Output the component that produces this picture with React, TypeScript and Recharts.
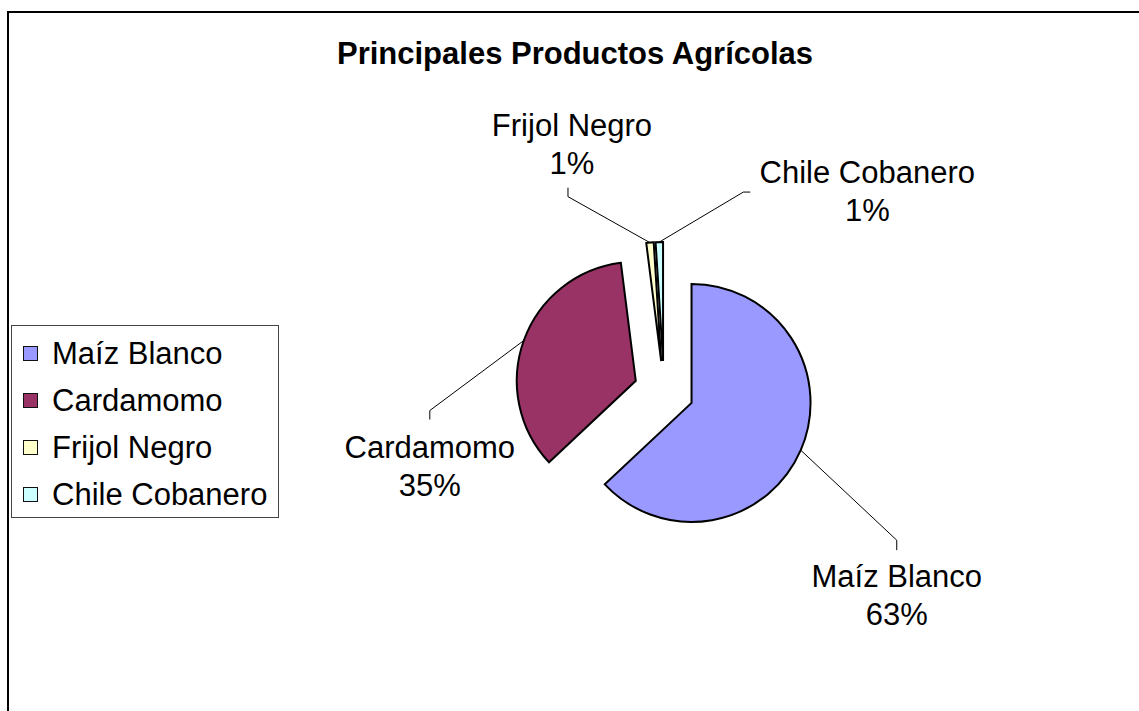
import React from 'react';
import { PieChart, Pie, Sector, Legend } from 'recharts';

const categories = ['Maíz Blanco', 'Cardamomo', 'Frijol Negro', 'Chile Cobanero'];
const shares = [63, 35, 1, 1];
const colors = ['#9999FF', '#993366', '#FFFFCC', '#CCFFFF'];

const data = categories.map((name, i) => ({ name, value: shares[i] }));

const FONT = '"Liberation Sans", Arial, Helvetica, sans-serif';
const RADIAN = Math.PI / 180;
const EXPLODE = 30;
const LINE_GAP = 38;

// leader line bend/end and first text baseline, relative to the slice's arc midpoint
const labelLayout = [
  { bend: [96, 90], end: [96, 100], text: [96, 137] },
  { bend: [-94, 70], end: [-94, 79], text: [-94, 117] },
  { bend: [-82, -46], end: [-82, -55], text: [-78, -107] },
  { bend: [84, -50], end: [91, -50], text: [208, -59] },
];

const renderSlice = (props: any) => {
  const { cx, cy, outerRadius, startAngle, endAngle, index, percent } = props;
  const mid = (startAngle + endAngle) / 2;
  const ux = Math.cos(-mid * RADIAN);
  const uy = Math.sin(-mid * RADIAN);
  // pulled-out slice
  const ox = cx + EXPLODE * ux;
  const oy = cy + EXPLODE * uy;
  const ax = ox + outerRadius * ux;
  const ay = oy + outerRadius * uy;
  const lay = labelLayout[index];
  const tx = ax + lay.text[0];
  const ty = ay + lay.text[1];
  const pts = [
    [ax, ay],
    [ax + lay.bend[0], ay + lay.bend[1]],
    [ax + lay.end[0], ay + lay.end[1]],
  ]
    .map((p) => p.join(','))
    .join(' ');

  return (
    <g key={`slice-${index}`}>
      <Sector
        cx={ox}
        cy={oy}
        innerRadius={0}
        outerRadius={outerRadius}
        startAngle={startAngle}
        endAngle={endAngle}
        fill={colors[index]}
        stroke="#000"
        strokeWidth={2}
      />
      <polyline points={pts} fill="none" stroke="#000" strokeWidth={1} />
      <text x={tx} y={ty} textAnchor="middle" fontFamily={FONT} fontSize={31} fill="#000">
        <tspan x={tx}>{categories[index]}</tspan>
        <tspan x={tx} dy={LINE_GAP}>{`${Math.round(percent * 100)}%`}</tspan>
      </text>
    </g>
  );
};

const renderLegend = () => (
  <div
    style={{
      boxSizing: 'border-box',
      width: 268,
      height: 193,
      border: '1px solid #444',
      background: '#fff',
      padding: '4px 0 0 11px',
      fontFamily: FONT,
      fontSize: 31,
      color: '#000',
    }}
  >
    {categories.map((name, i) => (
      <div key={name} style={{ display: 'flex', alignItems: 'center', height: 47 }}>
        <span
          style={{
            display: 'inline-block',
            boxSizing: 'border-box',
            width: 15,
            height: 15,
            background: colors[i],
            border: '1.5px solid #111',
            marginRight: 14,
          }}
        />
        <span style={{ lineHeight: '47px', whiteSpace: 'nowrap' }}>{name}</span>
      </div>
    ))}
  </div>
);

export default function App() {
  return (
    <div style={{ position: 'absolute', left: 0, top: 0, width: 1139, height: 711, background: '#fff' }}>
      <div
        style={{
          position: 'absolute',
          left: 7,
          top: 11,
          width: 1132,
          height: 700,
          boxSizing: 'border-box',
          borderTop: '2px solid #000',
          borderLeft: '2px solid #000',
        }}
      />
      <div
        style={{
          position: 'absolute',
          left: 0,
          top: 38,
          width: 1150,
          textAlign: 'center',
          fontFamily: FONT,
          fontWeight: 'bold',
          fontSize: 31,
          lineHeight: '31px',
          color: '#000',
        }}
      >
        Principales Productos Agrícolas
      </div>
      <div style={{ position: 'absolute', left: 0, top: 0 }}>
        <PieChart width={1139} height={711} margin={{ top: 0, right: 0, bottom: 0, left: 0 }}>
          <Pie
            data={data}
            dataKey="value"
            nameKey="name"
            cx={664}
            cy={391}
            outerRadius={119}
            startAngle={90}
            endAngle={-270}
            fill="transparent"
            stroke="none"
            label={renderSlice}
            labelLine={false}
            isAnimationActive={false}
          />
          <Legend
            content={renderLegend}
            wrapperStyle={{ position: 'absolute', left: 11, top: 325, width: 268, height: 193 }}
          />
        </PieChart>
      </div>
    </div>
  );
}
